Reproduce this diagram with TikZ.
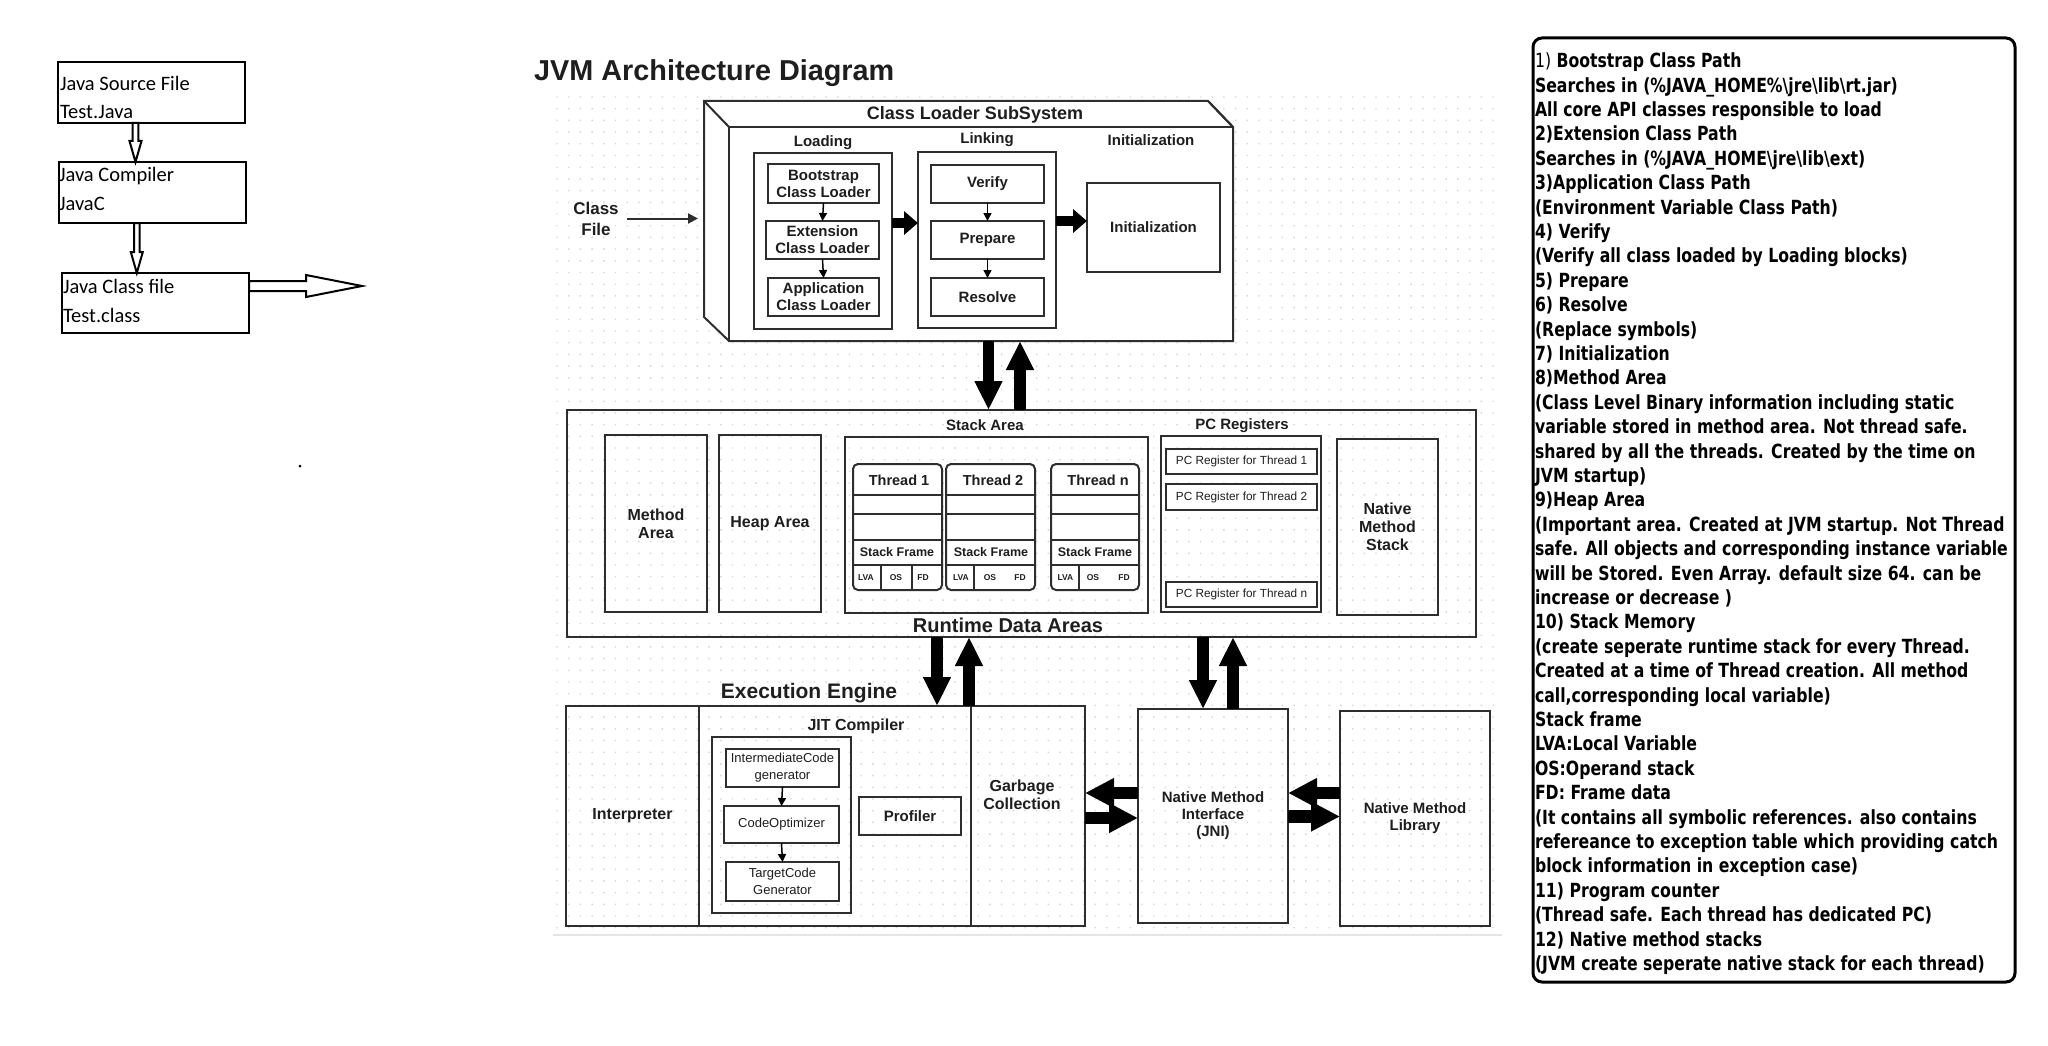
\documentclass[tikz,border=0pt]{standalone}
\usepackage{fontspec}
\usetikzlibrary{arrows.meta,calc}
\newfontfamily\af{Liberation Sans}
\newfontfamily\cf{Carlito}
\newfontfamily\nf[FakeStretch=0.805]{DejaVu Sans}
\definecolor{txt}{HTML}{1E1E1E}
\definecolor{ln}{HTML}{2E2E2E}
\definecolor{dotc}{HTML}{D6D6D6}
\tikzset{
  bx/.style={draw=ln, line width=2pt, inner sep=0pt, outer sep=0pt, anchor=north west, align=center, text=txt},
  lab/.style={text=txt, align=center, inner sep=0pt, outer sep=0pt},
  b9/.style={lab, font=\af\bfseries\fontsize{8.5}{10}\selectfont},
  b13/.style={lab, font=\af\bfseries\fontsize{12.5}{15}\selectfont},
  b14/.style={lab, font=\af\bfseries\fontsize{14.5}{17}\selectfont},
  b15/.style={lab, font=\af\bfseries\fontsize{15}{17}\selectfont},
  b16/.style={lab, font=\af\bfseries\fontsize{16}{18}\selectfont},
  b17/.style={lab, font=\af\bfseries\fontsize{17}{21}\selectfont},
  b18/.style={lab, font=\af\bfseries\fontsize{18}{21}\selectfont},
  b20/.style={lab, font=\af\bfseries\fontsize{20}{23}\selectfont},
  b21/.style={lab, font=\af\bfseries\fontsize{21}{24}\selectfont},
  r12/.style={lab, font=\af\fontsize{11.8}{13}\selectfont},
  r13/.style={lab, font=\af\fontsize{13}{17}\selectfont},
  java/.style={inner sep=0pt, outer sep=0pt, anchor=base west, text=black, font=\cf\fontsize{20.5}{24}\selectfont},
  noteln/.style={inner sep=0pt, outer sep=0pt, anchor=base west, text=black, font=\nf\bfseries\fontsize{19.5}{24.4}\selectfont},
  jbox/.style={draw=black, line width=2.6pt, inner sep=0pt, outer sep=0pt, anchor=north west},
  hollow/.style={draw=black, line width=2pt, fill=white, line join=miter},
  blk/.style={draw=black, line width=11.5pt, -{Triangle[width=26pt,length=29pt]}},
  blkh/.style={draw=black, line width=12.5pt, -{Triangle[width=28pt,length=29pt]}},
  blks/.style={draw=black, line width=10pt, -{Triangle[width=23pt,length=14pt]}},
  sm/.style={draw=black, line width=1.5pt, -{Triangle[width=8pt,length=8pt]}},
  thin/.style={draw=ln, line width=2pt, -{Triangle[width=10pt,length=10pt]}},
  thr/.style={bx, rounded corners=5pt, fill=white},
  row/.style={draw=ln, line width=1.8pt},
}
% [opts]{name}{x1}{y1}{x2}{y2}{text}
\newcommand\mkbox[7][]{\node[bx,minimum width={#5-#3},minimum height={#6-#4},#1] (#2) at (#3,#4) {#7};}
\newcommand\noteline[3]{\node[noteln] (#1) at (1535,{67.7+(#2-1)*24.4}) {#3};}
\newcommand\hollowdown[2]{\draw[hollow] let \p1=(#1), \p2=(#2) in (\x1-2.8pt,\y1) -- (\x1+2.8pt,\y1) -- (\x1+2.8pt,\y2+21pt) -- (\x1+6pt,\y2+21pt) -- (\x1,\y2) -- (\x1-6pt,\y2+21pt) -- (\x1-2.8pt,\y2+21pt) -- cycle;}
\newcommand\hollowright[2]{\draw[hollow] let \p1=(#1), \p2=(#2) in (\x1,\y1+5pt) -- (\x2-56pt,\y1+5pt) -- (\x2-56pt,\y1+11pt) -- (\x2,\y1) -- (\x2-56pt,\y1-11pt) -- (\x2-56pt,\y1-5pt) -- (\x1,\y1-5pt) -- cycle;}
\begin{document}
\begin{tikzpicture}[x=1pt,y=-1pt]
\path[use as bounding box, fill=white] (0,0) rectangle (2048,1046);

% ---------------- left: compile flow ----------------
\node[jbox, minimum width=187, minimum height=61] (src) at (58,62) {};
\node[jbox, minimum width=187, minimum height=61] (jc) at (59,162) {};
\node[jbox, minimum width=187, minimum height=60] (jcf) at (62,273) {};
\node[java] (src1) at (60,90.7) {Java Source File};
\node[java] (src2) at (60,118.5) {Test.Java};
\node[java] (jc1) at (59,182) {Java Compiler};
\node[java] (jc2) at (59,210) {JavaC};
\node[java] (jcf1) at (63,293) {Java Class file};
\node[java] (jcf2) at (63,322) {Test.class};
\coordinate (hx1) at (135.5,0);
\coordinate (hx2) at (136.8,0);
\coordinate (hy) at (0,286);
\coordinate (htip) at (362,286);
\hollowdown{src.south -| hx1}{jc.north -| hx1}
\hollowdown{jc.south -| hx2}{jcf.north -| hx2}
\hollowright{jcf.east |- hy}{htip}
\fill[black] (300,466) circle (1.5);

% ---------------- dotted grid ----------------
\foreach \i in {0,...,80} {
  \fill[dotc] \foreach \j in {0,...,71} { (556.3+\i*11.7,96.3+\j*11.7) rectangle ++(1.4,1.4) };
}
\draw[black!10, line width=2pt] (553,935) -- (1502,935);

% ---------------- title ----------------
\node[inner sep=0pt, anchor=base west, text=txt, font=\af\bfseries\fontsize{28.8}{32}\selectfont] (title) at (534,81) {JVM Architecture Diagram};

% ---------------- class loader subsystem ----------------
\filldraw[fill=white, draw=ln, line width=2pt, line join=miter] (704,101) -- (1208,101) -- (1233,127) -- (1233,341) -- (729,341) -- (704,317) -- cycle;
\draw[ln, line width=2pt] (704,101) -- (729,127);
\draw[ln, line width=2pt] (1208,101) -- (1233,127);
\mkbox[line width=2.4pt]{cl}{729}{127}{1233}{341}{}
\node[b18] (clt) at (975,115) {Class Loader SubSystem};
\node[b15] (loadt) at (823,143) {Loading};
\node[b15] (linkt) at (987,140) {Linking};
\node[b15] (initt) at (1151,140) {Initialization};
\mkbox{loadbox}{754}{153}{892}{329}{}
\mkbox[b15]{boot}{768}{164}{879}{203}{Bootstrap\\Class Loader}
\mkbox[b15]{ext}{766}{221}{879}{259}{Extension\\Class Loader}
\mkbox[b15]{app}{768}{278}{879}{316}{Application\\Class Loader}
\mkbox{linkbox}{918}{152}{1056}{328}{}
\mkbox[b15]{verify}{931}{165}{1044}{203}{Verify}
\mkbox[b15]{prepare}{931}{221}{1044}{259}{Prepare}
\mkbox[b15]{resolve}{931}{278}{1044}{316}{Resolve}
\mkbox[b15]{initbox}{1087}{183}{1220}{272}{Initialization}
\draw[sm] (boot.south) -- (ext.north);
\draw[sm] (ext.south) -- (app.north);
\draw[sm] (verify.south) -- (prepare.north);
\draw[sm] (prepare.south) -- (resolve.north);
\coordinate (ya) at (0,223);
\coordinate (yb) at (0,221);
\draw[blks] (loadbox.east |- ya) -- (linkbox.west |- ya);
\draw[blks] (linkbox.east |- yb) -- (initbox.west |- yb);
\node[b17] (cf) at (596,218.5) {Class\\File};
\coordinate (cfs) at (627,218.5);
\coordinate (cfe) at (698,218.5);
\draw[thin] (cfs) -- (cfe);

% ---------------- runtime data areas ----------------
\mkbox{rda}{567}{410}{1476}{637}{}
\mkbox[b16]{method}{605}{435}{707}{612}{Method\\Area}
\mkbox[b16]{heap}{719}{435}{821}{612}{Heap Area}
\mkbox{stackbox}{845}{437}{1148}{613}{}
\node[b15] (stackt) at (985,425) {Stack Area};
% threads
\mkbox[thr]{t1}{853}{464}{942}{590}{}
\mkbox[thr]{t2}{946}{464}{1035}{590}{}
\mkbox[thr]{tn}{1051}{464}{1139}{590}{}
\foreach \yy in {495,514,540,565} {
  \draw[row] (853,\yy) -- (942,\yy);
  \draw[row] (946,\yy) -- (1035,\yy);
  \draw[row] (1051,\yy) -- (1139,\yy);
}
\draw[row] (881,565) -- (881,590);
\draw[row] (912,565) -- (912,590);
\draw[row] (974,565) -- (974,590);
\draw[row] (1079,565) -- (1079,590);
\node[b14] (t1t) at (899,480) {Thread 1};
\node[b14] (t2t) at (993,480) {Thread 2};
\node[b14] (tnt) at (1098,480) {Thread n};
\node[b13] (t1s) at (897,552.5) {Stack Frame};
\node[b13] (t2s) at (991,552.5) {Stack Frame};
\node[b13] (tns) at (1095,552.5) {Stack Frame};
\node[b9] (t1a) at (866,577.5) {LVA};
\node[b9] (t1b) at (896,577.5) {OS};
\node[b9] (t1c) at (923,577.5) {FD};
\node[b9] (t2a) at (961,577.5) {LVA};
\node[b9] (t2b) at (990,577.5) {OS};
\node[b9] (t2c) at (1020,577.5) {FD};
\node[b9] (tna) at (1065.5,577.5) {LVA};
\node[b9] (tnb) at (1093,577.5) {OS};
\node[b9] (tnc) at (1124,577.5) {FD};
% pc registers
\mkbox{pcbox}{1161}{436}{1321}{612}{}
\node[b15] (pct) at (1242,426) {PC Registers};
\mkbox[r12,fill=white]{pc1}{1166}{449}{1317}{474}{PC Register for Thread 1}
\mkbox[r12,fill=white]{pc2}{1166}{484}{1317}{510}{PC Register for Thread 2}
\mkbox[r12,fill=white]{pcn}{1166}{582}{1317}{607}{PC Register for Thread n}
\mkbox[b16]{nms}{1337}{439}{1438}{615}{Native\\Method\\Stack}
\node[b20] (rdat) at (1008,625) {Runtime Data Areas};

% ---------------- execution engine ----------------
\node[b21] (eet) at (809,693) {Execution Engine};
\mkbox[b16]{interp}{566}{706}{699}{926}{Interpreter}
\mkbox{jit}{699}{706}{971}{926}{}
\mkbox{gc}{971}{706}{1085}{926}{}
\node[b16] (gct) at (1022,795) {Garbage\\Collection};
\node[b16] (jitt) at (856,726) {JIT Compiler};
\mkbox{jitin}{712}{737}{851}{913}{}
\mkbox[r13,fill=white]{icg}{726}{749}{839}{787}{IntermediateCode\\generator}
\mkbox[r13,fill=white]{co}{724}{806}{839}{843}{CodeOptimizer}
\mkbox[r13,fill=white]{tcg}{726}{862}{839}{901}{TargetCode\\Generator}
\mkbox[b15]{prof}{859}{797}{961}{835}{Profiler}
\draw[sm] (icg.south) -- (co.north);
\draw[sm] (co.south) -- (tcg.north);
\mkbox[b15,align=center]{jni}{1138}{709}{1288}{923}{Native Method\\Interface\\(JNI)}
\mkbox[b15]{nml}{1340}{711}{1490}{926}{Native Method\\Library}

% ---------------- block arrows ----------------
\coordinate (xa) at (988.5,0);
\coordinate (xb) at (1020,0);
\draw[blk] (cl.south -| xa) -- (rda.north -| xa);
\draw[blk] (rda.north -| xb) -- (cl.south -| xb);
\coordinate (xc) at (937,0);
\coordinate (xd) at (969,0);
\draw[blk] (rda.south -| xc) -- (jit.north -| xc);
\draw[blk] (jit.north -| xd) -- (rda.south -| xd);
\coordinate (xe) at (1203,0);
\coordinate (xf) at (1233,0);
\draw[blk] (rda.south -| xe) -- (jni.north -| xe);
\draw[blk] (jni.north -| xf) -- (rda.south -| xf);
\coordinate (ha) at (0,793);
\coordinate (hb) at (0,818);
\coordinate (hc) at (0,816.5);
\draw[blkh] (jni.west |- ha) -- (gc.east |- ha);
\draw[blkh] (gc.east |- hb) -- (jni.west |- hb);
\draw[blkh] (nml.west |- ha) -- (jni.east |- ha);
\draw[blkh] (jni.east |- hc) -- (nml.west |- hc);

% ---------------- notes ----------------
\node[draw=black, line width=3pt, rounded corners=9pt, inner sep=0pt, outer sep=0pt, anchor=north west, minimum width=482, minimum height=944] (notes) at (1533,38) {};
\noteline{n1}{1}{{\mdseries 1)} Bootstrap Class Path}
\noteline{n2}{2}{Searches in (\%JAVA\_HOME\%\textbackslash jre\textbackslash lib\textbackslash rt.jar)}
\noteline{n3}{3}{All core API classes responsible to load}
\noteline{n4}{4}{2)Extension Class Path}
\noteline{n5}{5}{Searches in (\%JAVA\_HOME\textbackslash jre\textbackslash lib\textbackslash ext)}
\noteline{n6}{6}{3)Application Class Path}
\noteline{n7}{7}{(Environment Variable Class Path)}
\noteline{n8}{8}{4) Verify}
\noteline{n9}{9}{(Verify all class loaded by Loading blocks)}
\noteline{n10}{10}{5) Prepare}
\noteline{n11}{11}{6) Resolve}
\noteline{n12}{12}{(Replace symbols)}
\noteline{n13}{13}{7) Initialization}
\noteline{n14}{14}{8)Method Area}
\noteline{n15}{15}{(Class Level Binary information including static}
\noteline{n16}{16}{variable stored in method area. Not thread safe.}
\noteline{n17}{17}{shared by all the threads. Created by the time on}
\noteline{n18}{18}{JVM startup)}
\noteline{n19}{19}{9)Heap Area}
\noteline{n20}{20}{(Important area. Created at JVM startup. Not Thread}
\noteline{n21}{21}{safe. All objects and corresponding instance variable}
\noteline{n22}{22}{will be Stored. Even Array. default size 64. can be}
\noteline{n23}{23}{increase or decrease )}
\noteline{n24}{24}{10) Stack Memory}
\noteline{n25}{25}{(create seperate runtime stack for every Thread.}
\noteline{n26}{26}{Created at a time of Thread creation. All method}
\noteline{n27}{27}{call,corresponding local variable)}
\noteline{n28}{28}{Stack frame}
\noteline{n29}{29}{LVA:Local Variable}
\noteline{n30}{30}{OS:Operand stack}
\noteline{n31}{31}{FD: Frame data}
\noteline{n32}{32}{(It contains all symbolic references. also contains}
\noteline{n33}{33}{refereance to exception table which providing catch}
\noteline{n34}{34}{block information in exception case)}
\noteline{n35}{35}{11) Program counter}
\noteline{n36}{36}{(Thread safe. Each thread has dedicated PC)}
\noteline{n37}{37}{12) Native method stacks}
\noteline{n38}{38}{(JVM create seperate native stack for each thread)}
\end{tikzpicture}
\end{document}
